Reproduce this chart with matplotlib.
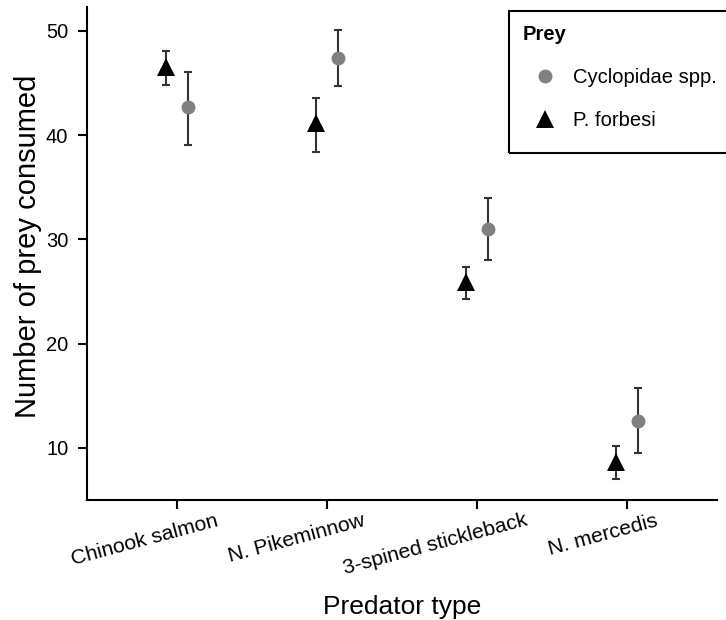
import numpy as np
import matplotlib
matplotlib.use("Agg")
import matplotlib.pyplot as plt
import matplotlib.transforms as mtransforms
from matplotlib.lines import Line2D
from matplotlib.patches import Rectangle

# ---- data ----
predators = ["Chinook salmon", "N. Pikeminnow", "3-spined stickleback", "N. mercedis"]
prey_labels = ["Cyclopidae spp.", "P. forbesi"]

cyclo_mean = [42.7, 47.4, 31.0, 12.6]
cyclo_low = [39.1, 44.7, 28.0, 9.5]
cyclo_high = [46.1, 50.1, 34.0, 15.7]

forbesi_mean = [46.5, 41.2, 25.9, 8.6]
forbesi_low = [44.8, 38.4, 24.3, 7.0]
forbesi_high = [48.1, 43.6, 27.3, 10.2]

plt.rcParams['font.family'] = ['Liberation Sans', 'DejaVu Sans']

W, H = 726, 620
fig = plt.figure(figsize=(W / 100, H / 100), dpi=100)
ax = fig.add_axes([87 / W, (H - 500) / H, 630 / W, 493 / H])

x = np.arange(1, len(predators) + 1)
dodge = 0.075
err_col = "#333333"
lw = 1.5

def draw(series_mean, low, high, xpos, marker, color, ms):
    m = np.array(series_mean)
    yerr = [m - np.array(low), np.array(high) - m]
    ax.errorbar(xpos, m, yerr=yerr, fmt='none', ecolor=err_col, elinewidth=lw,
                capsize=2.7, capthick=lw, zorder=2)
    ax.plot(xpos, m, linestyle='none', marker=marker, color=color, ms=ms,
            markeredgewidth=0, zorder=3)

draw(forbesi_mean, forbesi_low, forbesi_high, x - dodge, '^', 'black', 13)
draw(cyclo_mean, cyclo_low, cyclo_high, x + dodge, 'o', '#808080', 10)

ax.set_xlim(0.4, 4.6)
ax.set_ylim(4.98, 52.3)
ax.set_yticks([10, 20, 30, 40, 50])
ax.set_xticks(x)
ax.set_xticklabels([])

for s in ['top', 'right']:
    ax.spines[s].set_visible(False)
for s in ['left', 'bottom']:
    ax.spines[s].set_linewidth(1.5)
ax.tick_params(axis='both', width=1.5, length=6.5, colors='black', labelsize=14.5)
ax.tick_params(axis='y', pad=7)

ax.set_ylabel("Number of prey consumed", fontsize=21, labelpad=3)
ax.yaxis.label.set_y(0.5 + 7 / 493)
ax.set_xlabel("Predator type", fontsize=19, labelpad=58.5)

# rotated tick labels, ggplot-like hjust
fig.canvas.draw()
renderer = fig.canvas.get_renderer()
base = mtransforms.blended_transform_factory(ax.transData, ax.transAxes)
ang = 15
hjust = 0.74
for xi, lab in zip(x, predators):
    t = ax.text(xi, 0, lab, rotation=ang, rotation_mode='anchor', ha='right',
                va='top', fontsize=15.2, transform=base)
    w, h, d = renderer.get_text_width_height_descent(lab, t.get_fontproperties(), ismath=False)
    dx = (1 - hjust) * w * np.cos(np.deg2rad(ang))
    t.set_transform(mtransforms.offset_copy(base, fig=fig, x=dx, y=-11, units='dots'))

# legend box (extends past the right edge as in the reference)
fig.patches.append(Rectangle((509 / W, 1 - 153 / H), 240 / W, 142 / H,
                             transform=fig.transFigure, fill=False,
                             edgecolor='black', linewidth=1.5, zorder=5))

handles = [Line2D([], [], linestyle='none', marker='o', color='#808080', ms=10, markeredgewidth=0),
           Line2D([], [], linestyle='none', marker='^', color='black', ms=13, markeredgewidth=0)]
leg = fig.legend(handles, prey_labels, title="Prey", loc='upper left',
                 bbox_to_anchor=(509 / W, 1 - 11 / H), borderaxespad=0,
                 fontsize=14.5, title_fontproperties={'weight': 'bold', 'size': 14.5},
                 alignment='left', frameon=False,
                 handlelength=2.2, handletextpad=0.3, labelspacing=1.2, borderpad=0.7)

fig.savefig("out.png", dpi=100)
